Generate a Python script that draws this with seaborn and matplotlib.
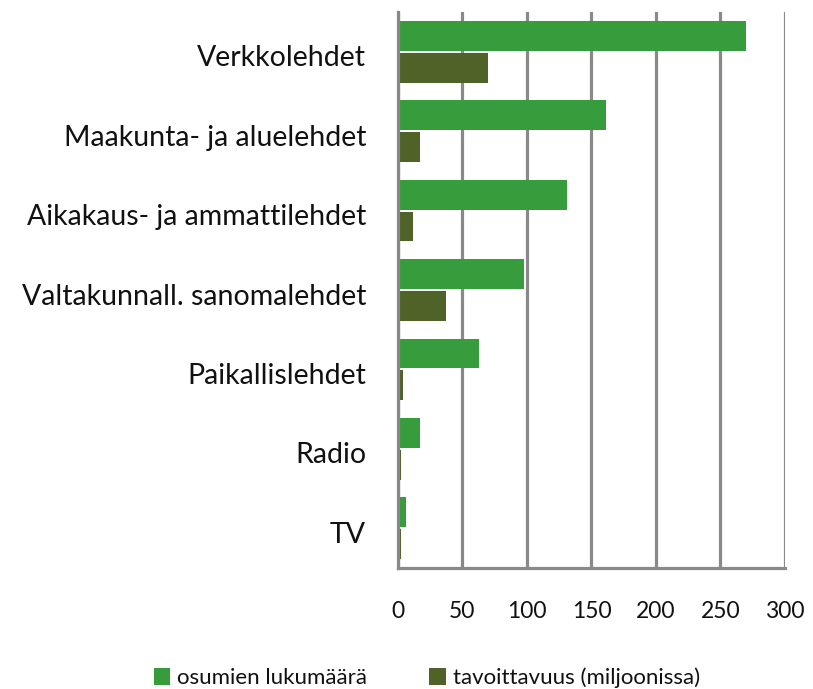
import matplotlib
matplotlib.use("Agg")
import matplotlib.pyplot as plt
import matplotlib.transforms as mtransforms
import seaborn as sns
import pandas as pd

categories = ["Verkkolehdet", "Maakunta- ja aluelehdet", "Aikakaus- ja ammattilehdet",
              "Valtakunnall. sanomalehdet", "Paikallislehdet", "Radio", "TV"]
series_names = ["osumien lukumäärä", "tavoittavuus (miljoonissa)"]
osumat = [270, 161, 131, 98, 63, 17, 6]
tavoittavuus = [70, 17, 12, 37, 4, 2.3, 2.3]
xticks = [0, 50, 100, 150, 200, 250, 300]
colors = ["#379C3C", "#4F6228"]

df = pd.DataFrame({
    "cat": categories * 2,
    "val": osumat + tavoittavuus,
    "series": [series_names[0]] * len(categories) + [series_names[1]] * len(categories),
})

sns.set_style("white")
plt.rcParams["font.family"] = ["Lato", "DejaVu Sans"]

fig = plt.figure(figsize=(8.13, 6.89), dpi=100)
ax = fig.add_axes([0.4895, 0.1756, 0.476, 0.807])
sns.barplot(data=df, y="cat", x="val", hue="series", hue_order=series_names,
            order=categories, palette=colors, saturation=1, orient="h",
            width=0.8, gap=0.06, edgecolor="none", ax=ax)

ax.set_xlim(0, 300)
ax.set_xticks(xticks)
ax.xaxis.grid(True, color="#898989", linewidth=2.3)
ax.set_axisbelow(True)
ax.set_xlabel("")
ax.set_ylabel("")
for s in ["top", "right"]:
    ax.spines[s].set_visible(False)
for s in ["left", "bottom"]:
    ax.spines[s].set_color("#898989")
    ax.spines[s].set_linewidth(2.3)
ax.tick_params(axis="x", length=0, pad=24, labelsize=16.5, labelcolor="#111111")
ax.tick_params(axis="y", length=0, pad=23, labelsize=20.5, labelcolor="#111111")
offset = mtransforms.ScaledTranslation(0, -4 / 100, fig.dpi_scale_trans)
for lbl in ax.get_yticklabels():
    lbl.set_transform(lbl.get_transform() + offset)

handles, labels = ax.get_legend_handles_labels()
ax.get_legend().remove()
fig.legend(handles, labels, loc="lower center", bbox_to_anchor=(0.525, -0.028), ncol=2,
           frameon=False, fontsize=16, handlelength=0.75, handleheight=0.75,
           handletextpad=0.3, columnspacing=2.8, labelcolor="#111111")
fig.savefig("out.png", dpi=100)
